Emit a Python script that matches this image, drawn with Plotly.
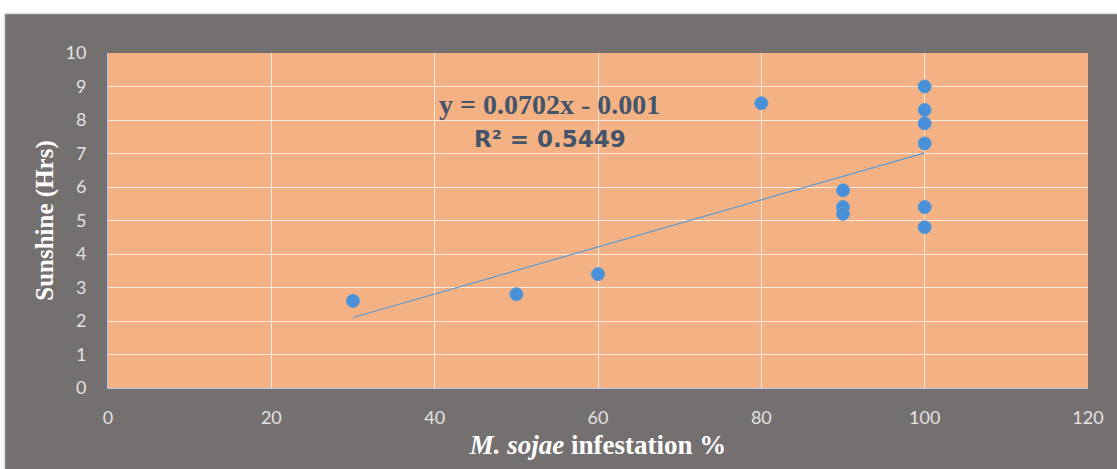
import plotly.graph_objects as go

infestation = [30, 50, 60, 80, 90, 90, 90, 100, 100, 100, 100, 100, 100]
sunshine = [2.6, 2.8, 3.4, 8.5, 5.9, 5.4, 5.2, 9.0, 8.3, 7.9, 7.3, 5.4, 4.8]
slope = 0.0702
intercept = -0.001
r2 = 0.5449

x_ticks = [0, 20, 40, 60, 80, 100, 120]
y_ticks = list(range(0, 11))

trend_x = [min(infestation), max(infestation)]
trend_y = [slope * v + intercept for v in trend_x]

fig = go.Figure()
fig.add_trace(go.Scatter(x=trend_x, y=trend_y, mode="lines",
                         line=dict(color="#5B9BD5", width=1.2), hoverinfo="skip"))
fig.add_trace(go.Scatter(x=infestation, y=sunshine, mode="markers",
                         marker=dict(size=13, color="#4A90D9",
                                     line=dict(color="#5B9BD5", width=1))))

W, H = 1117, 469
L, R, T, B = 108, 29, 53, 81
pw, ph = W - L - R, H - T - B

def px2xf(px):
    return (px - L) / pw

def py2yf(py):
    return (H - B - py) / ph

shapes = [
    dict(type="rect", xref="paper", yref="paper", x0=px2xf(-5), x1=px2xf(W + 5),
         y0=py2yf(13), y1=py2yf(-5), fillcolor="white", line=dict(width=0), layer="above"),
    dict(type="rect", xref="paper", yref="paper", x0=px2xf(-5), x1=px2xf(4),
         y0=py2yf(H + 5), y1=py2yf(-5), fillcolor="white", line=dict(width=0), layer="above"),
    dict(type="line", xref="paper", yref="paper", x0=px2xf(4), x1=px2xf(W + 5),
         y0=py2yf(13.5), y1=py2yf(13.5), line=dict(color="#D6DCE4", width=1.5), layer="above"),
    dict(type="line", xref="paper", yref="paper", x0=px2xf(4.5), x1=px2xf(4.5),
         y0=py2yf(13.5), y1=py2yf(H + 5), line=dict(color="#D6DCE4", width=1.5), layer="above"),
]

serif = "Liberation Serif, Times New Roman, serif"

fig.update_layout(
    width=W, height=H,
    margin=dict(l=L, r=R, t=T, b=B),
    paper_bgcolor="#757070",
    plot_bgcolor="#F4B183",
    showlegend=False,
    shapes=shapes,
    font=dict(family="Lato, sans-serif", color="#E3E1E1", size=18),
    xaxis=dict(range=[0, 120], tickvals=x_ticks, showgrid=True,
               gridcolor="rgba(255,255,255,0.75)", gridwidth=1,
               zeroline=False, showline=True, linecolor="#B4C7E7", linewidth=1,
               ticks="", ticklabelstandoff=13, tickfont=dict(size=18),
               title=dict(text="<b><i>M. sojae</i> infestation %</b>", standoff=8,
                          font=dict(family=serif, size=27, color="white"))),
    yaxis=dict(range=[0, 10], tickvals=y_ticks, showgrid=True,
               gridcolor="rgba(255,255,255,0.75)", gridwidth=1,
               zeroline=False, showline=True, linecolor="#B4C7E7", linewidth=1,
               ticks="", ticklabelstandoff=17, tickfont=dict(size=18),
               title=dict(text="<b>Sunshine (Hrs)</b>", standoff=4,
                          font=dict(family=serif, size=25, color="white"))),
    annotations=[
        dict(x=px2xf(549), y=py2yf(104), xref="paper", yref="paper", showarrow=False,
             xanchor="center", yanchor="middle",
             text=f"<b>y = {slope}x - {abs(intercept)}</b>",
             font=dict(family=serif, size=28, color="#44546A")),
        dict(x=px2xf(550), y=py2yf(139), xref="paper", yref="paper", showarrow=False,
             xanchor="center", yanchor="middle",
             text=f"<b>R² = {r2}</b>",
             font=dict(family="DejaVu Sans, Verdana, sans-serif", size=23, color="#44546A")),
    ],
)

fig.write_html("out.html", config={"displayModeBar": False},
               post_script="document.body.style.margin='0';document.body.style.padding='0';")
